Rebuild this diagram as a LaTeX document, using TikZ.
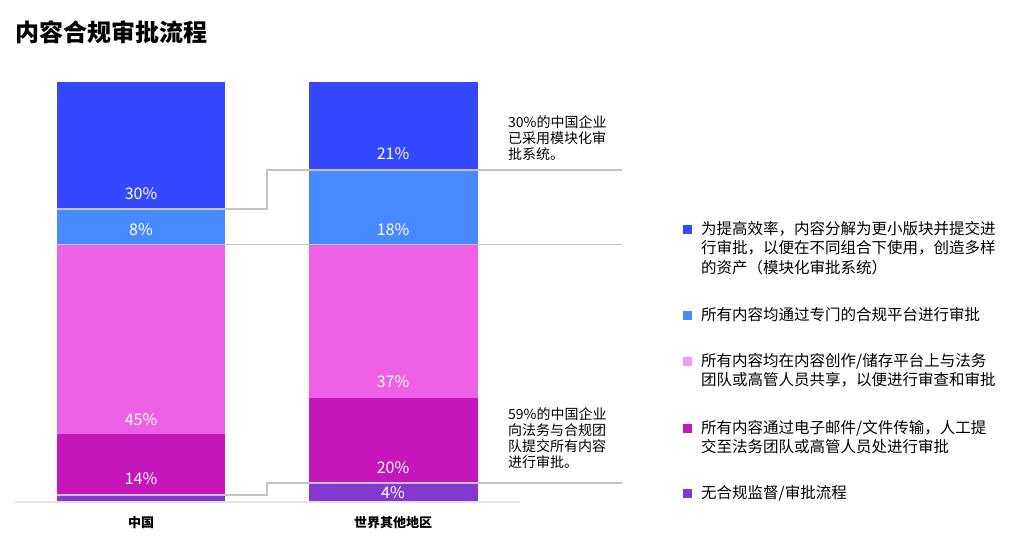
\documentclass[tikz,border=0pt]{standalone}
\usepackage{fontspec}
\setmainfont{Noto Sans CJK SC}
\usetikzlibrary{positioning}
\definecolor{mblue}{HTML}{3547FF}
\definecolor{lblue}{HTML}{4989FF}
\definecolor{mpink}{HTML}{EE60E6}
\definecolor{lpink}{HTML}{F59CEF}
\definecolor{mmag}{HTML}{C416BA}
\definecolor{mpurp}{HTML}{8338D0}
\definecolor{lgray}{HTML}{C4C4C4}
\definecolor{bgray}{HTML}{E2E2E2}
\tikzset{pct/.style = {text=white, inner sep=0pt, font=\fontsize{16}{16}\selectfont},
         conn/.style = {draw=lgray, line width=1.5pt},
         barlabel/.style = {inner sep=0pt, font=\fontsize{13}{13}\selectfont\bfseries},
         legsq/.style = {minimum size=9pt, inner sep=0pt},
         legtxt/.style = {anchor=north west, align=left, inner sep=0pt, font=\fontsize{15.5}{19.5}\selectfont},
         note/.style = {anchor=north west, align=left, inner sep=0pt, font=\fontsize{14}{16.2}\selectfont}}

\begin{document}
\begin{tikzpicture}[x=1pt, y=-1pt]
    \useasboundingbox (0, 0) rectangle (1024, 549);
    \node [anchor=west, inner sep=0pt, font=\fontsize{24}{24}\selectfont\bfseries] (title) at (15, 32) {内容合规审批流程};

    % China
    \fill [mblue] (57, 82) rectangle (225, 209);
    \fill [lblue] (57, 209) rectangle (225, 244);
    \fill [mpink] (57, 244) rectangle (225, 434);
    \fill [mmag] (57, 434) rectangle (225, 495);
    \fill [mpurp] (57, 495) rectangle (225, 502);

    % rest of world
    \fill [mblue] (309, 82) rectangle (478, 170);
    \fill [lblue] (309, 170) rectangle (478, 245);
    \fill [mpink] (309, 245) rectangle (478, 398);
    \fill [mmag] (309, 398) rectangle (478, 483);
    \fill [mpurp] (309, 483) rectangle (478, 502);

    \coordinate (b0) at (15, 502);
    \coordinate (b1) at (520, 502);
    \draw [draw=bgray, line width=2pt] (b0) -- (b1);

    \coordinate (up0) at (57, 209);
    \coordinate (up1) at (267, 209);
    \coordinate (up2) at (622, 170);
    \draw [conn] (up0) -- (up1) |- (up2);
    \coordinate (mid0) at (57, 244.5);
    \coordinate (mid1) at (622, 244.5);
    \draw [conn] (mid0) -- (mid1);
    \coordinate (lo0) at (57, 495);
    \coordinate (lo1) at (267, 495);
    \coordinate (lo2) at (622, 483);
    \draw [conn] (lo0) -- (lo1) |- (lo2);

    \node [pct] (cn30) at (141, 194) {30\%};
    \node [pct] (cn8) at (141, 230) {8\%};
    \node [pct] (cn45) at (141, 420) {45\%};
    \node [pct] (cn14) at (141, 479) {14\%};
    \node [pct] (rw21) at (393, 154) {21\%};
    \node [pct] (rw18) at (393, 230) {18\%};
    \node [pct] (rw37) at (393, 382) {37\%};
    \node [pct] (rw20) at (393, 468) {20\%};
    \node [pct] (rw4) at (393, 493) {4\%};

    \node [barlabel] (cn) at (141, 523) {中国};
    \node [barlabel] (rw) at (393, 523) {世界其他地区};

    \node [note] (noteup) at (508, 115) {30\%的中国企业\\已采用模块化审\\批系统。};
    \node [note] (notelo) at (508, 407) {59\%的中国企业\\向法务与合规团\\队提交所有内容\\进行审批。};

    \node [legsq, fill=mblue] (sq1) at (687.5, 229) {};
    \node [legsq, fill=lblue] (sq2) at (687.5, 315) {};
    \node [legsq, fill=lpink] (sq3) at (687.5, 361) {};
    \node [legsq, fill=mmag] (sq4) at (687.5, 428) {};
    \node [legsq, fill=mpurp] (sq5) at (687.5, 493) {};
    \node [legtxt] (lg1) at (701, 221) {为提高效率，内容分解为更小版块并提交进\\行审批，以便在不同组合下使用，创造多样\\的资产（模块化审批系统）};
    \node [legtxt] (lg2) at (701, 307) {所有内容均通过专门的合规平台进行审批};
    \node [legtxt] (lg3) at (701, 353) {所有内容均在内容创作/储存平台上与法务\\团队或高管人员共享，以便进行审查和审批};
    \node [legtxt] (lg4) at (701, 420) {所有内容通过电子邮件/文件传输，人工提\\交至法务团队或高管人员处进行审批};
    \node [legtxt] (lg5) at (701, 485) {无合规监督/审批流程};
\end{tikzpicture}
\end{document}
